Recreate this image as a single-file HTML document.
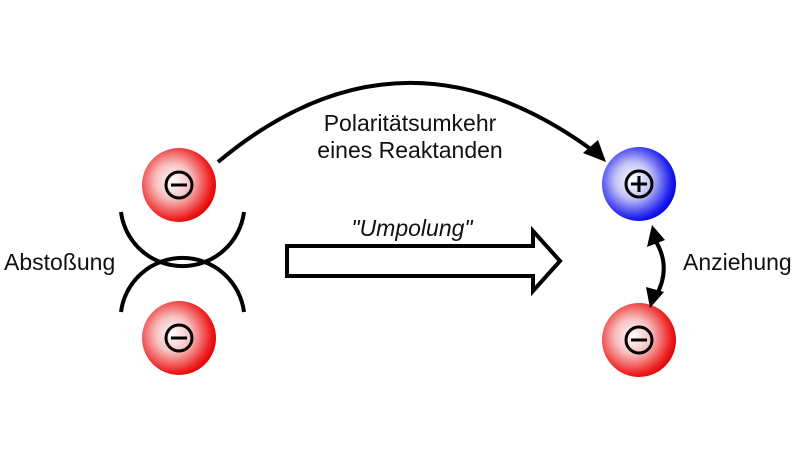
<!DOCTYPE html>
<html><head><meta charset="utf-8"><style>
html,body{margin:0;padding:0;background:#fff;width:800px;height:457px;overflow:hidden}
svg text{font-family:"Liberation Sans",sans-serif;fill:#111}
</style></head><body>
<svg width="800" height="457" viewBox="0 0 800 457">
<defs>
<radialGradient id="r" cx="0.42" cy="0.45" r="0.6">
<stop offset="0" stop-color="#fff"/><stop offset="0.4" stop-color="#f7c0c0"/><stop offset="0.85" stop-color="#ee2020"/><stop offset="1" stop-color="#dd0000"/></radialGradient>
<radialGradient id="b" cx="0.42" cy="0.45" r="0.6">
<stop offset="0" stop-color="#fff"/><stop offset="0.4" stop-color="#c4c4f7"/><stop offset="0.85" stop-color="#2020ee"/><stop offset="1" stop-color="#0000dd"/></radialGradient>
</defs>
<g stroke="#000" stroke-width="4" fill="none">
<circle cx="179" cy="185" r="37" fill="url(#r)" stroke="none"/>
<circle cx="179" cy="338" r="37" fill="url(#r)" stroke="none"/>
<circle cx="639" cy="184" r="37" fill="url(#b)" stroke="none"/>
<circle cx="639" cy="340" r="37" fill="url(#r)" stroke="none"/>
<g stroke-width="3">
<circle cx="179" cy="185" r="13"/><line x1="171" y1="185" x2="187" y2="185"/>
<circle cx="179" cy="338" r="13"/><line x1="171" y1="338" x2="187" y2="338"/>
<circle cx="639" cy="340" r="13"/><line x1="631" y1="340" x2="647" y2="340"/>
<circle cx="639" cy="184" r="13"/><line x1="631" y1="184" x2="647" y2="184"/><line x1="639" y1="176" x2="639" y2="192"/>
</g>
<path d="M121 212 A62 62 0 0 0 244 212"/>
<path d="M121 312 A62 62 0 0 1 244 312"/>
<path d="M218 162 Q 400 10 592 150"/>
<path d="M287 246 H533 V231 L560 261 L533 291 V276 H287 Z" stroke-width="4"/>
<path d="M655 240 Q 672 267 656 296"/>
</g>
<polygon points="606,162 583,153 598,140" fill="#000"/>
<polygon points="652,225 647,247 665,240" fill="#000"/>
<polygon points="650,308 646,287 664,292" fill="#000"/>
<text x="410" y="131" font-size="23" text-anchor="middle">Polaritätsumkehr</text>
<text x="410" y="158" font-size="23" text-anchor="middle">eines Reaktanden</text>
<text x="412" y="236" font-size="23" font-style="italic" text-anchor="middle">"Umpolung"</text>
<text x="4" y="270" font-size="23">Abstoßung</text>
<text x="683" y="270" font-size="23">Anziehung</text>
</svg>
</body></html>
